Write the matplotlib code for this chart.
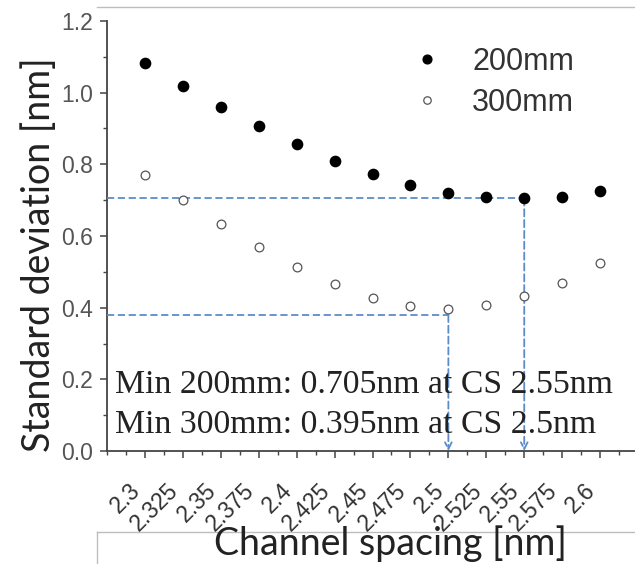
import matplotlib
matplotlib.use("Agg")
import matplotlib.pyplot as plt
from matplotlib.lines import Line2D
from matplotlib.ticker import MultipleLocator, FixedLocator

# ---- data ----
channel_spacing = [2.3, 2.325, 2.35, 2.375, 2.4, 2.425, 2.45, 2.475, 2.5, 2.525, 2.55, 2.575, 2.6]
tick_labels = ["2.3", "2.325", "2.35", "2.375", "2.4", "2.425", "2.45", "2.475", "2.5", "2.525", "2.55", "2.575", "2.6"]
std_200mm = [1.083, 1.019, 0.960, 0.907, 0.857, 0.810, 0.773, 0.742, 0.721, 0.708, 0.705, 0.710, 0.726]
std_300mm = [0.770, 0.700, 0.633, 0.570, 0.514, 0.466, 0.426, 0.405, 0.395, 0.407, 0.433, 0.470, 0.524]
min200_cs, min200_val = 2.55, 0.705
min300_cs, min300_val = 2.5, 0.38
note_lines = ["Min 200mm: 0.705nm at CS 2.55nm", "Min 300mm: 0.395nm at CS 2.5nm"]
y_ticks = [0.0, 0.2, 0.4, 0.6, 0.8, 1.0, 1.2]
y_tick_labels = ["0.0", "0.2", "0.4", "0.6", "0.8", "1.0", "1.2"]

W, H = 635, 564
fig = plt.figure(figsize=(W / 100, H / 100), dpi=100)
ax = fig.add_axes([107 / W, (H - 451) / H, (635 - 107) / W, (451 - 21) / H])

dash_col = "#5b8cc8"
ax.plot(channel_spacing, std_200mm, "o", color="black", ms=7.4, zorder=4, label="200mm")
ax.plot(channel_spacing, std_300mm, "o", mfc="white", mec="#555555", mew=0.9, ms=6.3, zorder=4, label="300mm")

# dashed guide lines
x0 = 2.275
for cs, val in [(min200_cs, min200_val), (min300_cs, min300_val)]:
    ax.plot([x0, cs], [val, val], ls=(0, (4, 2)), color=dash_col, lw=1.3, zorder=3)
    ax.annotate("", xy=(cs, 0.0), xytext=(cs, val),
                arrowprops=dict(arrowstyle="->", ls=(0, (4, 2)), color=dash_col, lw=1.3,
                                shrinkA=0, shrinkB=0, mutation_scale=12), zorder=3)

ax.set_xlim(2.275, 2.623)
ax.set_ylim(0, 1.2)

for s in ["top", "right"]:
    ax.spines[s].set_visible(False)
for s in ["left", "bottom"]:
    ax.spines[s].set_color("#444444")
    ax.spines[s].set_linewidth(1.3)

ax.xaxis.set_major_locator(FixedLocator(channel_spacing))
ax.xaxis.set_minor_locator(MultipleLocator(0.0125))
ax.yaxis.set_major_locator(FixedLocator(y_ticks))
ax.yaxis.set_minor_locator(MultipleLocator(0.1))
ax.set_yticklabels(y_tick_labels)
ax.set_xticklabels(tick_labels, rotation=45, ha="right", va="top")

ax.tick_params(which="major", direction="out", length=5, width=1.1, color="#444444")
ax.tick_params(which="minor", direction="out", length=3, width=1.0, color="#444444")
ax.tick_params(axis="y", labelsize=16.5, labelcolor="#555555", pad=5)
ax.tick_params(axis="x", labelsize=16.5, labelcolor="#333333", pad=15)
for lab in ax.get_xticklabels() + ax.get_yticklabels():
    lab.set_family("Liberation Sans")

# notes
for i, t in enumerate(note_lines):
    ax.text(0.015, [0.1349, 0.0419][i], t, transform=ax.transAxes, family="Liberation Serif",
            fontsize=24.3, color="#222222", va="baseline", ha="left", zorder=5)

# legend
leg = ax.legend(loc="upper left", bbox_to_anchor=(412 / W, (H - 47) / H), bbox_transform=fig.transFigure,
                frameon=False, prop={"family": "Liberation Sans", "size": 22}, markerscale=0.85,
                handlelength=1.0, handletextpad=0.97, labelspacing=0.35, borderpad=0, borderaxespad=0)
for t in leg.get_texts():
    t.set_color("#333333")

# axis labels
fig.text(390 / W, 9 / H, "Channel spacing [nm]", family="Lato", fontsize=27, color="#222222",
         ha="center", va="baseline")
fig.text(50 / W, (H - 255) / H, "Standard deviation [nm]", family="Lato", fontsize=27, color="#222222",
         ha="center", va="baseline", rotation=90, rotation_mode="anchor")

# frame lines of the original picture
lc = "#bdbdbd"
fig.add_artist(Line2D([97 / W, 1], [(H - 7) / H] * 2, transform=fig.transFigure, color=lc, lw=1))
fig.add_artist(Line2D([97 / W, 1], [(H - 532) / H] * 2, transform=fig.transFigure, color=lc, lw=1))
fig.add_artist(Line2D([97 / W, 97 / W], [0, (H - 532) / H], transform=fig.transFigure, color=lc, lw=1))

fig.savefig("out.png", dpi=100)
